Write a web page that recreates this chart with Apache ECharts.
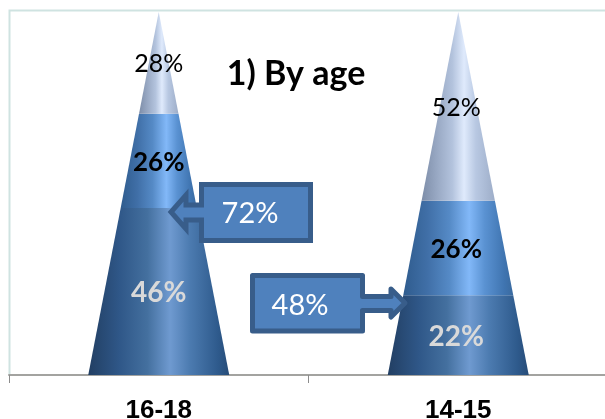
<!DOCTYPE html>
<html>
<head>
<meta charset="utf-8">
<style>html,body{margin:0;padding:0;background:#fff}#chart{width:605px;height:419px}</style>
<script src="https://cdn.jsdelivr.net/npm/echarts@6/dist/echarts.min.js"></script>
</head>
<body>
<div id="chart"></div>
<script>
// Age groups and the share of respondents in each cone band, bottom to top
const categories = ['16-18', '14-15'];
const lowerBand = [46, 22];
const middleBand = [26, 26];
const upperBand = [28, 52];
const lowerLabels = ['46%', '22%'];
const middleLabels = ['26%', '26%'];
const upperLabels = ['28%', '52%'];

const CALLOUT_FILL = '#4f81bd';
const CALLOUT_STROKE = '#385d8a';
const LABEL_FONT = 'Lato, "Open Sans", sans-serif';

function sideShade(stops) {
  return {
    type: 'linear', x: 0, y: 0, x2: 1, y2: 0,
    colorStops: stops.map(([offset, color]) => ({ offset, color }))
  };
}

// Each band is a slice of one cone: its width narrows with the value
function coneBand(fill, font, textColor, labels) {
  return function (params, api) {
    const cat = api.value(0);
    const from = api.value(1);
    const to = api.value(2);
    const center = api.coord([cat, from])[0];
    const baseHalf = api.size([1, 0])[0] * 0.2354;
    const yFrom = api.coord([cat, from])[1];
    const yTo = api.coord([cat, to])[1];
    const halfFrom = baseHalf * (1 - from / 100);
    const halfTo = baseHalf * (1 - to / 100);
    return {
      type: 'group',
      children: [
        {
          type: 'polygon',
          shape: { points: [
            [center - halfFrom, yFrom], [center + halfFrom, yFrom],
            [center + halfTo, yTo], [center - halfTo, yTo]
          ] },
          style: { fill: fill }
        },
        {
          type: 'text',
          z2: 5,
          style: {
            // Labels on the second cone sit slightly left of its axis
            x: center - (cat === 1 ? 2 : 0), y: (yFrom + yTo) / 2 + 1.5,
            text: labels[cat],
            font: font,
            fill: textColor,
            textAlign: 'center', textVerticalAlign: 'middle'
          }
        }
      ]
    };
  };
}

function bandSeries(name, starts, values, fill, font, textColor, labels) {
  return {
    type: 'custom',
    name: name,
    coordinateSystem: 'cartesian2d',
    renderItem: coneBand(fill, font, textColor, labels),
    encode: { x: 0, y: [1, 2] },
    data: values.map((v, i) => [i, starts[i], starts[i] + v])
  };
}

const middleStart = lowerBand.slice();
const upperStart = lowerBand.map((v, i) => v + middleBand[i]);
const zeroStart = lowerBand.map(() => 0);

const lowerFill = sideShade([[0, '#223f63'], [0.22, '#2f5788'], [0.42, '#44709f'], [0.58, '#6f9ad0'], [0.72, '#4c7bb0'], [0.92, '#2e5a8c'], [1, '#274c78']]);
const middleFill = sideShade([[0, '#2f5c8e'], [0.22, '#406fa7'], [0.42, '#558ac6'], [0.6, '#82b8f8'], [0.74, '#5a92d2'], [0.92, '#3f74b0'], [1, '#3a6a9f']]);
const upperFill = sideShade([[0, '#7d8da8'], [0.2, '#97a7c2'], [0.42, '#b3c3dd'], [0.58, '#dfeafc'], [0.74, '#b8c8e2'], [1, '#9dadc8']]);

const chart = echarts.init(document.getElementById('chart'));
chart.setOption({
  animation: false,
  backgroundColor: '#ffffff',
  grid: { left: 9, right: -3, top: 12, bottom: 44, outerBoundsMode: 'none' },
  xAxis: {
    type: 'category',
    data: categories,
    axisLine: { lineStyle: { color: '#a3a3a0', width: 2 } },
    axisTick: { show: true, alignWithLabel: false, interval: 0, length: 8, lineStyle: { color: '#8c8c8c', width: 1 } },
    axisLabel: {
      margin: 23,
      color: '#000000',
      fontFamily: '"Liberation Sans", Arial, sans-serif',
      fontWeight: 'bold',
      fontSize: 26
    }
  },
  yAxis: { type: 'value', min: 0, max: 100, show: false },
  graphic: [
    // Plot frame, visible along the top and left
    {
      type: 'polyline', z: 0, silent: true,
      shape: { points: [[9.5, 375], [9.5, 10.5], [605, 10.5]] },
      style: { fill: null, stroke: '#cfe3e1', lineWidth: 2 }
    },
    {
      type: 'text', z: 20,
      style: {
        x: 296, y: 74, text: '1) By age',
        font: 'bold 34px ' + LABEL_FONT,
        fill: '#000000', textAlign: 'center', textVerticalAlign: 'middle'
      }
    },
    // Callout with an arrow pointing at the 16-18 cone
    {
      type: 'polygon', z: 20,
      shape: { points: [
        [201.5, 184.5], [310.5, 184.5], [310.5, 240.5], [201.5, 240.5], [201.5, 220],
        [186, 220], [186, 229], [171, 212], [186, 195], [186, 205], [201.5, 205]
      ] },
      style: { fill: CALLOUT_FILL, stroke: CALLOUT_STROKE, lineWidth: 5, lineJoin: 'miter' }
    },
    {
      type: 'text', z: 21,
      style: {
        x: 250, y: 214, text: '72%',
        font: '29px ' + LABEL_FONT,
        fill: '#ffffff', textAlign: 'center', textVerticalAlign: 'middle'
      }
    },
    // Callout with an arrow pointing at the 14-15 cone
    {
      type: 'polygon', z: 20,
      shape: { points: [
        [252.5, 275.5], [362.5, 275.5], [362.5, 296.5], [391, 296.5], [391, 289],
        [405, 303], [391, 317], [391, 310.5], [362.5, 310.5], [362.5, 331], [252.5, 331]
      ] },
      style: { fill: CALLOUT_FILL, stroke: CALLOUT_STROKE, lineWidth: 5, lineJoin: 'round' }
    },
    {
      type: 'text', z: 21,
      style: {
        x: 300, y: 306, text: '48%',
        font: '29px ' + LABEL_FONT,
        fill: '#ffffff', textAlign: 'center', textVerticalAlign: 'middle'
      }
    }
  ],
  series: [
    bandSeries('Lower', zeroStart, lowerBand, lowerFill, 'bold 28px ' + LABEL_FONT, '#d9d9d9', lowerLabels),
    bandSeries('Middle', middleStart, middleBand, middleFill, 'bold 26px ' + LABEL_FONT, '#000000', middleLabels),
    bandSeries('Upper', upperStart, upperBand, upperFill, '25px ' + LABEL_FONT, '#000000', upperLabels)
  ]
});
</script>
</body>
</html>
